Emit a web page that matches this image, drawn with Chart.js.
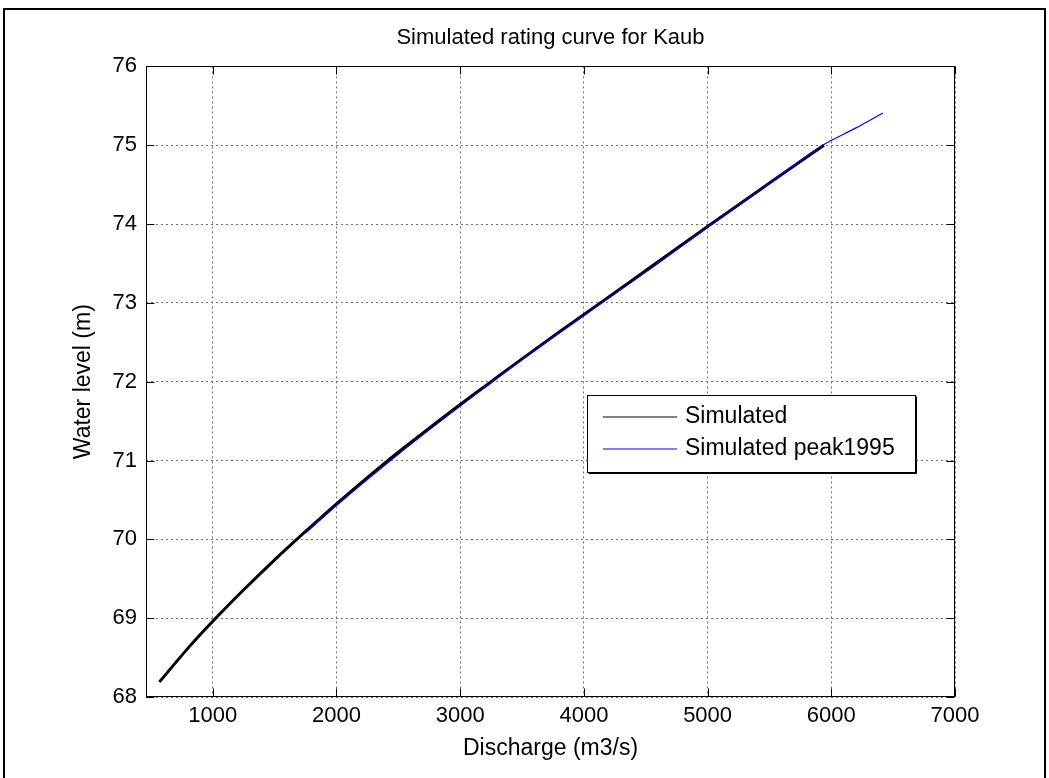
<!DOCTYPE html>
<html>
<head>
<meta charset="utf-8">
<title>Simulated rating curve for Kaub</title>
<script src="https://cdn.jsdelivr.net/npm/chart.js@4.4.1/dist/chart.umd.min.js"></script>
<style>
  body { margin: 0; background: #fff; }
  canvas { display: block; }
</style>
</head>
<body>
<canvas id="ratingChart" width="1049" height="778"></canvas>
<script>
// axis ticks
const xTicks = [1000, 2000, 3000, 4000, 5000, 6000, 7000];
const yTicks = [68, 69, 70, 71, 72, 73, 74, 75, 76];

// "Simulated" (discharge m3/s, water level m)
const simQ = [568, 800, 1000, 1250, 1500, 1750, 2000, 2400, 2700, 3000, 3250, 3500, 3800, 4133, 4500, 5000, 5500, 5940];
const simH = [68.19, 68.62, 68.96, 69.36, 69.74, 70.10, 70.45, 70.98, 71.35, 71.71, 72.0, 72.29, 72.63, 73.0, 73.41, 73.97, 74.52, 75.0];

// "Simulated peak1995"
const peakQ = [1750, 2000, 2500, 3000, 3500, 4000, 4500, 5000, 5500, 5930, 6200, 6417];
const peakH = [70.08, 70.43, 71.08, 71.69, 72.28, 72.84, 73.39, 73.96, 74.52, 75.0, 75.22, 75.41];

const fontFamily = "'Liberation Sans', Arial, Helvetica, sans-serif";

function toPoints(xs, ys) {
    return xs.map((x, i) => ({ x: x, y: ys[i] }));
}

// figure frame, axes box, inward ticks and the boxed legend (MATLAB look)
const matlabFrame = {
    id: 'matlabFrame',
    afterDraw(chart) {
        const c = chart.ctx;
        const a = chart.chartArea;
        const sx = chart.scales.x, sy = chart.scales.y;
        c.save();
        c.setLineDash([]);
        c.strokeStyle = '#000';

        c.lineWidth = 2;
        c.strokeRect(4, 9, 1041, 800);

        c.lineWidth = 1;
        const L = Math.round(a.left) + 0.5, R = Math.round(a.right) - 0.5;
        const T = Math.round(a.top) + 0.5, B = Math.round(a.bottom) - 0.5;
        c.strokeRect(L, T, R - L, B - T);

        c.beginPath();
        xTicks.forEach(v => {
            const px = Math.round(sx.getPixelForValue(v)) + 0.5;
            c.moveTo(px, B); c.lineTo(px, B - 8);
            c.moveTo(px, T); c.lineTo(px, T + 8);
        });
        yTicks.forEach(v => {
            const py = Math.round(sy.getPixelForValue(v)) + 0.5;
            c.moveTo(L, py); c.lineTo(L + 8, py);
            c.moveTo(R, py); c.lineTo(R - 8, py);
        });
        c.stroke();

        // legend
        const bx = 587, by = 395, bw = 328, bh = 77;
        c.fillStyle = '#fff';
        c.fillRect(bx, by, bw, bh);
        c.strokeRect(bx + 0.5, by + 0.5, bw, bh);
        c.beginPath();
        c.moveTo(bx + 1.5, by + bh + 1.5); c.lineTo(bx + bw + 1.5, by + bh + 1.5); c.lineTo(bx + bw + 1.5, by + 1.5);
        c.stroke();

        c.font = '23px ' + fontFamily;
        c.textBaseline = 'middle';
        c.textAlign = 'left';
        chart.data.datasets.forEach((ds, i) => {
            const y = 417 + i * 32;
            c.strokeStyle = ds.borderColor;
            c.lineWidth = 1;
            c.beginPath();
            c.moveTo(603, y); c.lineTo(677, y);
            c.stroke();
            c.fillStyle = '#000';
            c.fillText(ds.label, 685, y);
        });
        c.restore();
    }
};

const ctx = document.getElementById('ratingChart').getContext('2d');
const chart = new Chart(ctx, {
    type: 'line',
    data: {
        datasets: [{
            label: 'Simulated',
            data: toPoints(simQ, simH),
            borderColor: '#000000',
            borderWidth: 3,
            pointRadius: 0,
            cubicInterpolationMode: 'monotone',
            order: 1
        }, {
            label: 'Simulated peak1995',
            data: toPoints(peakQ, peakH),
            borderColor: '#0000ff',
            borderWidth: 1.2,
            pointRadius: 0,
            cubicInterpolationMode: 'monotone',
            order: 0
        }]
    },
    options: {
        responsive: false,
        animation: false,
        layout: { padding: { left: 0, right: 94, top: 0, bottom: 0 } },
        plugins: {
            legend: { display: false },
            tooltip: { enabled: false },
            title: {
                display: true,
                text: 'Simulated rating curve for Kaub',
                fullSize: false,
                color: '#000',
                font: { family: fontFamily, size: 22, weight: 'normal' },
                padding: { top: 25, bottom: 15 }
            }
        },
        scales: {
            x: {
                type: 'linear',
                min: 460,
                max: 7000,
                afterBuildTicks: s => { s.ticks = xTicks.map(v => ({ value: v })); },
                afterFit: s => { s.height = 81; },
                grid: { color: '#707070', lineWidth: 1, drawTicks: false },
                border: { display: false, dash: [2, 3] },
                ticks: {
                    color: '#000',
                    font: { family: fontFamily, size: 22 },
                    padding: 6,
                    maxRotation: 0,
                    autoSkip: false,
                    callback: v => String(v)
                },
                title: {
                    display: true,
                    text: 'Discharge (m3/s)',
                    color: '#000',
                    font: { family: fontFamily, size: 23 },
                    padding: { top: 0, bottom: 16 }
                }
            },
            y: {
                type: 'linear',
                min: 68,
                max: 76,
                afterBuildTicks: s => { s.ticks = yTicks.map(v => ({ value: v })); },
                afterFit: s => { s.width = 146; },
                grid: { color: '#707070', lineWidth: 1, drawTicks: false },
                border: { display: false, dash: [2, 3] },
                ticks: {
                    color: '#000',
                    font: { family: fontFamily, size: 22 },
                    padding: 9,
                    callback: v => String(v)
                },
                title: {
                    display: true,
                    text: 'Water level (m)',
                    color: '#000',
                    font: { family: fontFamily, size: 23 },
                    padding: { top: 70, bottom: 0 }
                }
            }
        }
    },
    plugins: [matlabFrame]
});
</script>
</body>
</html>
